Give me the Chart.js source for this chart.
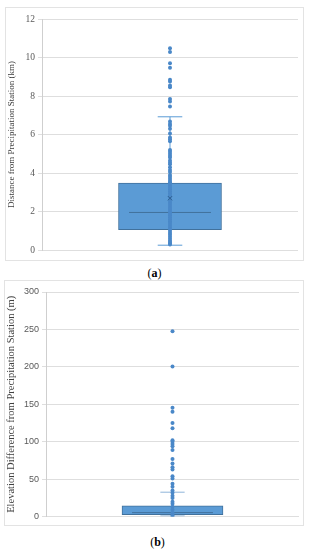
<!DOCTYPE html>
<html>
<head>
<meta charset="utf-8">
<script src="https://cdn.jsdelivr.net/npm/chart.js@4"></script>
<style>
  html, body { margin: 0; padding: 0; background: #fff; }
  body { width: 311px; height: 550px; position: relative; overflow: hidden; }
  .frame { position: absolute; border: 1px solid #e3e3e3; box-sizing: border-box; }
  .frame canvas { display: block; }
  .cap { position: absolute; width: 311px; text-align: center; font: 12px "Liberation Serif", serif; color: #000; }
</style>
</head>
<body>
<div class="frame" style="left:5px; top:7px; width:299px; height:254px;">
  <canvas id="chartA" width="297" height="252"></canvas>
</div>
<div class="cap" style="top:266px; left:-1px;">(<b>a</b>)</div>
<div class="frame" style="left:4px; top:280px; width:300px; height:246px;">
  <canvas id="chartB" width="298" height="244"></canvas>
</div>
<div class="cap" style="top:535px; left:2px;">(<b>b</b>)</div>

<script>
// (a) distance from precipitation station, km
const distStats = { min: 0.25, q1: 1.05, median: 1.95, q3: 3.48, max: 6.92, mean: 2.69 };
const distPoints = [10.48, 10.28, 9.7, 9.47, 8.85, 8.75, 8.55, 8.45, 7.85, 7.72, 7.45,
  6.68, 6.55, 6.45, 6.3, 6.05, 5.85, 5.75, 5.65, 5.2, 5.1, 5.0, 4.9, 4.8, 4.65, 4.55,
  4.45, 4.3, 4.15, 4.05, 3.9, 3.8, 3.7, 3.6, 3.52, 3.45, 3.35, 3.25, 3.15, 3.05, 2.95,
  2.85, 2.75, 2.6, 2.5, 2.4, 2.3, 2.2, 2.1, 2.0, 1.9, 1.8, 1.7, 1.6, 1.5, 1.4, 1.3,
  1.2, 1.1, 1.0, 0.9, 0.8, 0.7, 0.6, 0.5, 0.42, 0.35, 0.28];
const distTicks = { min: 0, max: 12, step: 2 };

// (b) elevation difference from precipitation station, m
const elevStats = { min: 0.9, q1: 2.5, median: 5.3, q3: 14.5, max: 32.6 };
const elevPoints = [247.5, 200.5, 145.5, 140, 125, 118, 102, 100, 97, 94, 89, 77, 71,
  66, 63, 54, 51, 44, 40, 35, 32, 28, 25, 20, 17, 13, 9, 5, 2, 0.5];
const elevTicks = { min: 0, max: 300, step: 50 };

const boxFill = '#5b9bd5';
const boxEdge = '#41719c';
const dotColor = '#4a88c8';
const gridColor = '#dedede';
const tickColor = '#595959';

function makeBoxPlot(id, stats, points, ticks, opts) {
  const c = 1; // x position of the single box
  const datasets = [
    { type: 'bar', data: [{ x: c, y: [stats.q1, stats.q3] }], backgroundColor: boxFill,
      borderColor: boxEdge, borderWidth: 1, borderSkipped: false, barThickness: opts.boxWidth, order: 5 },
    { type: 'line', data: [{ x: c - opts.boxHalf, y: stats.median }, { x: c + opts.boxHalf, y: stats.median }],
      borderColor: boxEdge, borderWidth: 1, pointRadius: 0, order: 4 },
    { type: 'line', data: [{ x: c, y: stats.q3 }, { x: c, y: stats.max }],
      borderColor: opts.whiskerColor, borderWidth: 1, pointRadius: 0, order: 4 },
    { type: 'line', data: [{ x: c, y: stats.min }, { x: c, y: stats.q1 }],
      borderColor: opts.whiskerColor, borderWidth: 1, pointRadius: 0, order: 4 },
    { type: 'line', data: [{ x: c - opts.capHalf, y: stats.max }, { x: c + opts.capHalf, y: stats.max }],
      borderColor: opts.whiskerColor, borderWidth: 1, pointRadius: 0, order: 4 },
    { type: 'line', data: [{ x: c - opts.capHalf, y: stats.min }, { x: c + opts.capHalf, y: stats.min }],
      borderColor: opts.whiskerColor, borderWidth: 1, pointRadius: 0, order: 4 },
    { type: 'scatter', data: points.map(v => ({ x: c, y: v })), backgroundColor: dotColor,
      borderColor: dotColor, pointRadius: 2, borderWidth: 0, order: 1 }
  ];
  if (stats.mean !== undefined) {
    datasets.push({ type: 'scatter', data: [{ x: c, y: stats.mean }], pointStyle: 'crossRot',
      borderColor: '#2f5f8f', pointRadius: 3, borderWidth: 1, order: 0 });
  }
  return new Chart(document.getElementById(id), {
    type: 'bar',
    data: { datasets },
    options: {
      responsive: false,
      animation: false,
      layout: { padding: opts.padding },
      plugins: { legend: { display: false }, tooltip: { enabled: false } },
      scales: {
        x: { type: 'linear', min: 0, max: 2, display: false },
        y: {
          min: ticks.min, max: ticks.max,
          afterFit: s => { s.width = opts.axisWidth; },
          ticks: { stepSize: ticks.step, color: tickColor, font: opts.tickFont, padding: 3 },
          grid: { color: gridColor, tickLength: 4, tickColor: gridColor },
          border: { color: '#cfcfcf' },
          title: { display: true, text: opts.title, color: '#404040', font: opts.titleFont, padding: 0 }
        }
      }
    }
  });
}

makeBoxPlot('chartA', distStats, distPoints, distTicks, {
  title: 'Distance from Precipitation Station (km)',
  tickFont: { family: 'Liberation Serif', size: 9.5 },
  titleFont: { family: 'Liberation Serif', size: 9 },
  padding: { left: 0, top: 11, right: 4, bottom: 10 },
  axisWidth: 36, boxWidth: 103, boxHalf: 0.4, capHalf: 0.12, whiskerColor: '#5b9bd5'
});

makeBoxPlot('chartB', elevStats, elevPoints, elevTicks, {
  title: 'Elevation Difference from Precipitation Station (m)',
  tickFont: { family: 'Liberation Sans', size: 9 },
  titleFont: { family: 'Liberation Serif', size: 10.5 },
  padding: { left: 0, top: 11, right: 4, bottom: 6 },
  axisWidth: 41, boxWidth: 101, boxHalf: 0.4, capHalf: 0.12, whiskerColor: '#8fb4d9'
});
</script>
</body>
</html>
